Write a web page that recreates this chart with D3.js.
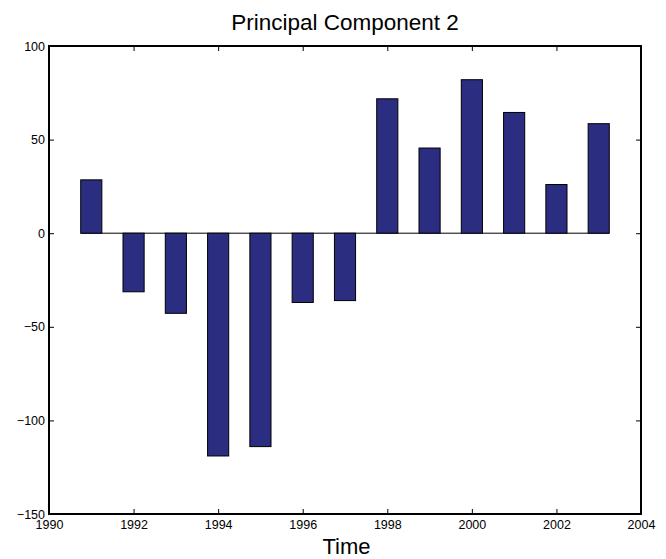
<!DOCTYPE html>
<html>
<head>
<meta charset="utf-8">
<script src="https://cdn.jsdelivr.net/npm/d3@7"></script>
<style>
  body { margin: 0; background: #fff; }
  svg { display: block; font-family: "Liberation Sans", Arial, Helvetica, sans-serif; }
</style>
</head>
<body>
<svg id="chart" width="666" height="559"></svg>
<script>
// Scores of the second principal component, one per year
const years = [1991, 1992, 1993, 1994, 1995, 1996, 1997, 1998, 1999, 2000, 2001, 2002, 2003];
const scores = [28.5, -31.3, -42.8, -119, -114, -37, -36, 71.8, 45.5, 82, 64.5, 26, 58.5];
const xTicks = [1990, 1992, 1994, 1996, 1998, 2000, 2002, 2004];
const yTicks = [-150, -100, -50, 0, 50, 100];

const svg = d3.select("#chart");
const margin = { left: 49, right: 25, top: 46, bottom: 45 };
const W = 666, H = 559;

const x = d3.scaleLinear().domain([1990, 2004]).range([margin.left, W - margin.right]);
const y = d3.scaleLinear().domain([-150, 100]).range([H - margin.bottom, margin.top]);

const barW = x(1990.5) - x(1990);

// baseline at zero
svg.append("line")
  .attr("x1", x(1991) - barW / 2).attr("x2", x(2003) + barW / 2)
  .attr("y1", y(0)).attr("y2", y(0))
  .attr("stroke", "#000").attr("stroke-width", 1);

// bars
svg.append("g").selectAll("rect")
  .data(years.map((yr, i) => ({ yr, v: scores[i] })))
  .join("rect")
  .attr("x", d => x(d.yr) - barW / 2)
  .attr("width", barW)
  .attr("y", d => y(Math.max(0, d.v)))
  .attr("height", d => Math.abs(y(d.v) - y(0)))
  .attr("fill", "#2b2d80")
  .attr("stroke", "#000")
  .attr("stroke-width", 1);

// axes with inward ticks
const xAxis = d3.axisBottom(x).tickValues(xTicks).tickFormat(d3.format("d")).tickSizeInner(-5).tickSizeOuter(0).tickPadding(6);
const yAxis = d3.axisLeft(y).tickValues(yTicks).tickFormat(d => d < 0 ? "\u2212" + Math.abs(d) : d).tickSizeInner(-5).tickSizeOuter(0).tickPadding(4);

const gx = svg.append("g").attr("transform", `translate(0,${y(-150)})`).call(xAxis);
const gy = svg.append("g").attr("transform", `translate(${x(1990)},0)`).call(yAxis);
// mirrored ticks on top and right
const gxTop = svg.append("g").attr("transform", `translate(0,${y(100)})`)
  .call(d3.axisTop(x).tickValues(xTicks).tickFormat("").tickSizeInner(-5).tickSizeOuter(0));
const gyRight = svg.append("g").attr("transform", `translate(${x(2004)},0)`)
  .call(d3.axisRight(y).tickValues(yTicks).tickFormat("").tickSizeInner(-5).tickSizeOuter(0));

[gx, gy, gxTop, gyRight].forEach(g => {
  g.select(".domain").remove();
  g.selectAll(".tick line").attr("stroke", "#000").attr("stroke-width", 1);
  g.selectAll(".tick text").attr("fill", "#000").style("font-size", "12.5px");
});

// frame
svg.append("rect")
  .attr("x", x(1990)).attr("y", y(100))
  .attr("width", x(2004) - x(1990)).attr("height", y(-150) - y(100))
  .attr("fill", "none").attr("stroke", "#000").attr("stroke-width", 2);

// title and axis label
svg.append("text")
  .attr("x", (x(1990) + x(2004)) / 2).attr("y", 30)
  .attr("text-anchor", "middle").style("font-size", "22.5px").attr("fill", "#000")
  .text("Principal Component 2");

svg.append("text")
  .attr("x", (x(1990) + x(2004)) / 2 + 1.5).attr("y", 554)
  .attr("text-anchor", "middle").style("font-size", "22px").attr("fill", "#000")
  .text("Time");
</script>
</body>
</html>
